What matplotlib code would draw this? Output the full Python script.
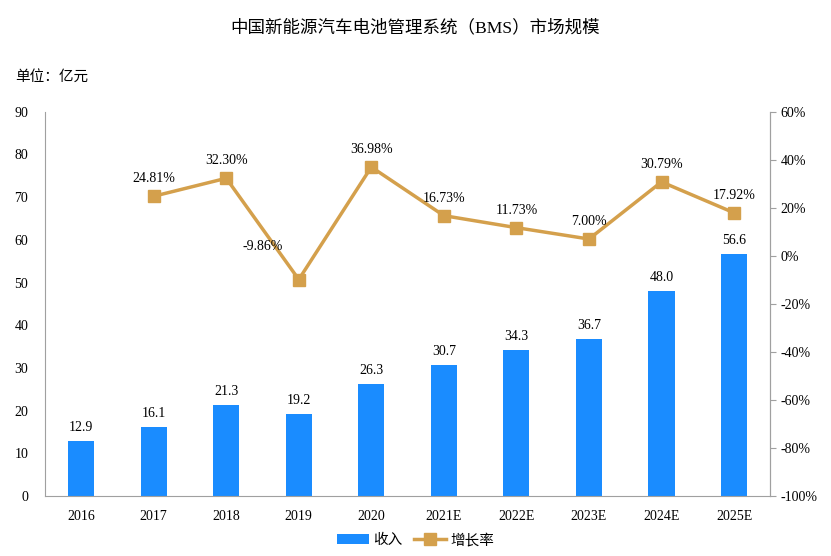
import numpy as np
import matplotlib
matplotlib.use('Agg')
import matplotlib.pyplot as plt

plt.rcParams['font.family'] = ['Liberation Serif', 'Noto Sans CJK SC']

years = ['2016', '2017', '2018', '2019', '2020', '2021E', '2022E', '2023E', '2024E', '2025E']
revenue = [12.9, 16.1, 21.3, 19.2, 26.3, 30.7, 34.3, 36.7, 48.0, 56.6]
growth_years = years[1:]
growth = [24.81, 32.30, -9.86, 36.98, 16.73, 11.73, 7.00, 30.79, 17.92]

bar_color = '#1a8cff'
line_color = '#d4a04c'

fig = plt.figure(figsize=(8.31, 5.56), dpi=100)
ax = fig.add_axes([0.054, 0.108, 0.873, 0.691])
x = np.arange(len(years))
bars = ax.bar(x, revenue, width=0.36, color=bar_color, label='收入')
for xi, v in zip(x, revenue):
    ax.annotate(f'{v:.1f}', (xi, v), xytext=(0, 5), textcoords='offset points',
                ha='center', va='bottom', fontsize=10)
ax.set_ylim(0, 90)
ax.set_yticks(range(0, 91, 10))
ax.set_xlim(-0.5, 9.5)
ax.set_xticks(x)
ax.set_xticklabels(years)
ax.tick_params(axis='both', labelsize=10, length=0)
ax.tick_params(axis='x', pad=10)
ax.tick_params(axis='y', pad=12)
ax.spines['top'].set_visible(False)
for s in ['left', 'bottom', 'right']:
    ax.spines[s].set_color('#a0a0a0')

ax2 = ax.twinx()
gx = np.arange(1, len(years))
line, = ax2.plot(gx, growth, color=line_color, lw=2.5, marker='s', ms=9, label='增长率')
for xi, v in zip(gx, growth):
    # the 2019 label sits higher and a little to the left in the original
    off = (-26, 19) if v < 0 else (0, 8)
    ax2.annotate(f'{v:.2f}%', (xi, v), xytext=off, textcoords='offset points',
                 ha='center', va='bottom', fontsize=10)
ax2.set_ylim(-100, 60)
ax2.set_yticks(range(-100, 61, 20))
ax2.set_yticklabels([f'{t}%' for t in range(-100, 61, 20)])
ax2.tick_params(axis='y', labelsize=10, length=4, color='#a0a0a0')
for s in ['top', 'left', 'bottom']:
    ax2.spines[s].set_visible(False)
ax2.spines['right'].set_color('#a0a0a0')

fig.text(0.5, 0.95, '中国新能源汽车电池管理系统（BMS）市场规模', ha='center', va='center', fontsize=12.6)
fig.text(0.018, 0.862, '单位：亿元', ha='left', va='center', fontsize=10.5)
fig.legend(handles=[bars, line], loc='center', bbox_to_anchor=(0.5, 0.028), ncol=2, frameon=False,
           fontsize=10.5, handlelength=2.2, columnspacing=0.8, handletextpad=0.3)

fig.savefig('out.png', dpi=100)
